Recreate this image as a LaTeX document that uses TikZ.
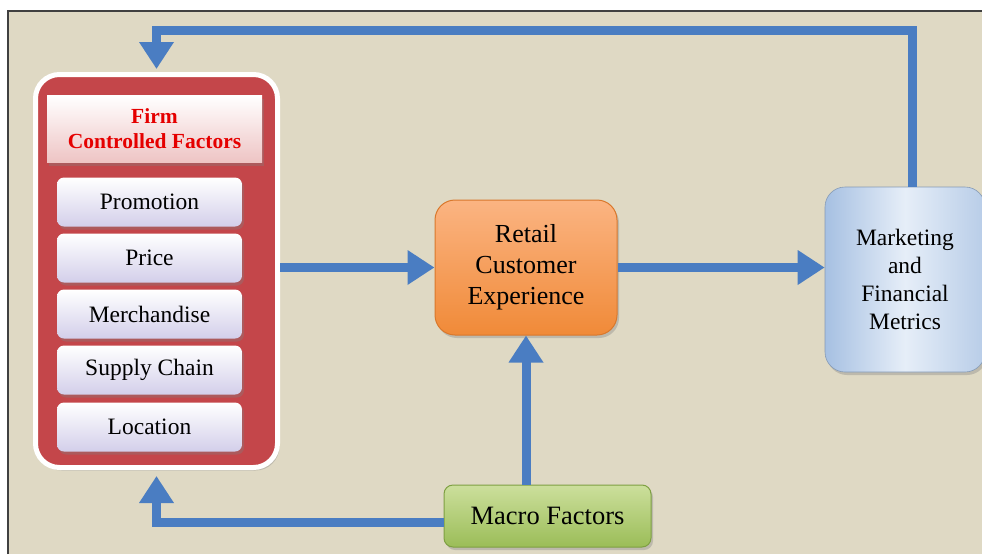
\documentclass[tikz,border=0pt]{standalone}
\usepackage{fontspec}
\setmainfont{Liberation Serif}
\usetikzlibrary{arrows.meta,shadows}
\definecolor{bg}{HTML}{DFD9C4}
\definecolor{arrowblue}{HTML}{4A7DC2}
\definecolor{firmred}{HTML}{C4464A}
\definecolor{lav}{HTML}{D3CFEA}
\definecolor{pinkish}{HTML}{EEC4C4}
\definecolor{orangetop}{HTML}{FBB482}
\definecolor{orangebot}{HTML}{F08A38}
\definecolor{orangeline}{HTML}{D9782C}
\definecolor{bluedark}{HTML}{A6C0E2}
\definecolor{bluelight}{HTML}{E6EEF8}
\definecolor{greentop}{HTML}{CCDF9C}
\definecolor{greenbot}{HTML}{9BBD58}
\definecolor{greenline}{HTML}{7EA042}
\tikzset{
  flow/.style={draw=arrowblue, line width=9pt, -{Triangle[width=33pt,length=27pt]}},
  shad/.style={drop shadow={opacity=0.35, shadow xshift=2pt, shadow yshift=-3pt}},
  itembox/.style={shad, rounded corners=7pt, top color=white, bottom color=lav,
    minimum width=185pt, minimum height=49pt, inner sep=0pt,
    font=\fontsize{23.5}{26}\selectfont},
}
\begin{document}
\begin{tikzpicture}[x=1pt,y=-1pt]
\useasboundingbox (0,0) rectangle (982,554);
\fill[white] (0,0) rectangle (982,554);
\fill[bg] (8,11) rectangle (982,554);
\draw[line width=1.6pt, black!75] (8,554) -- (8,11) -- (982,11);

% firm controlled factors panel
\node[shad, draw=white, line width=5pt, fill=firmred, rounded corners=24pt,
  minimum width=242pt, minimum height=393pt] (firm) at (156.5,271) {};
\node[shad, top color=white, bottom color=pinkish, minimum width=215pt, minimum height=67pt,
  inner sep=0pt, align=center, text=red!90!black,
  font=\fontsize{21.5}{25}\selectfont\bfseries] (head) at (154.5,129) {Firm\\Controlled Factors};
\node[itembox] (promo) at (149.5,202) {Promotion};
\node[itembox] (price) at (149.5,258) {Price};
\node[itembox] (merch) at (149.5,314) {Merchandise};
\node[itembox] (supply) at (149.5,370) {Supply Chain};
\node[itembox] (loc) at (149.5,427) {Location};

% retail
\node[shad, draw=orangeline, line width=1pt, rounded corners=20pt, top color=orangetop, bottom color=orangebot,
  minimum width=182pt, minimum height=135pt, align=center,
  font=\fontsize{26}{31}\selectfont] (retail) at (526,267.5) {Retail\\Customer\\Experience};

% marketing
\node[shad, draw=bluedark!80!black, line width=0.6pt, rounded corners=20pt,
  left color=bluedark, right color=bluedark!80, middle color=bluelight,
  minimum width=160pt, minimum height=185pt, align=center,
  font=\fontsize{23.5}{28}\selectfont] (mkt) at (905,279.5) {Marketing\\and\\Financial\\Metrics};

% macro
\node[shad, draw=greenline, line width=1pt, rounded corners=9pt, top color=greentop, bottom color=greenbot,
  minimum width=207pt, minimum height=62pt,
  font=\fontsize{26.5}{30}\selectfont] (macro) at (547.5,516) {Macro Factors};

% connectors
\coordinate (tr) at (912,30);
\coordinate (mw) at ([yshift=-6pt]macro.west);
\draw[flow] (tr |- mkt.north) -- (tr) -- (firm.north |- tr) -- ([yshift=3pt]firm.north);
\draw[flow] (firm.east |- retail.west) -- (retail.west);
\draw[flow] (retail.east) -- (mkt.west |- retail.east);
\draw[flow] (retail.south |- macro.north) -- (retail.south);
\draw[flow] (mw) -- (firm.south |- mw) -- ([yshift=-6pt]firm.south);
\end{tikzpicture}
\end{document}
